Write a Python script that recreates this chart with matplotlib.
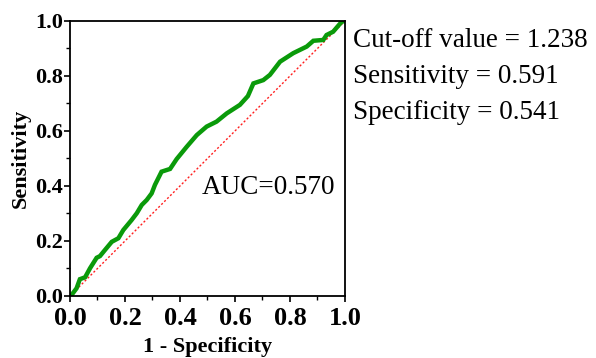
import matplotlib.pyplot as plt
import matplotlib.ticker as ticker

# ROC curve points
FPR = [0.000, 0.006, 0.024, 0.036, 0.055, 0.073, 0.097, 0.109, 0.127, 0.152,
       0.176, 0.194, 0.224, 0.243, 0.261, 0.279, 0.297, 0.309, 0.333, 0.364,
       0.376, 0.388, 0.406, 0.424, 0.461, 0.497, 0.533, 0.570, 0.618, 0.647,
       0.667, 0.703, 0.727, 0.764, 0.812, 0.861, 0.885, 0.921, 0.933, 0.957,
       0.988, 1.000]
TPR = [0.000, 0.004, 0.028, 0.061, 0.068, 0.101, 0.139, 0.145, 0.167, 0.197,
       0.210, 0.240, 0.276, 0.301, 0.331, 0.349, 0.373, 0.404, 0.452, 0.462,
       0.480, 0.498, 0.520, 0.542, 0.585, 0.616, 0.634, 0.664, 0.695, 0.727,
       0.773, 0.785, 0.804, 0.852, 0.883, 0.907, 0.928, 0.931, 0.949, 0.961,
       0.997, 1.000]

AUC = 0.570
CUTOFF = 1.238
SENS = 0.591
SPEC = 0.541

TICKS = [0.0, 0.2, 0.4, 0.6, 0.8, 1.0]

plt.rcParams.update({
    "font.family": "Liberation Serif",
    "axes.linewidth": 1.3,
})

fig = plt.figure(figsize=(5.96, 3.58), dpi=100)
ax = fig.add_axes([0.1174, 0.1732, 0.4614, 0.7682])

ax.plot([0, 1], [0, 1], color="#ff2020", linestyle=(0, (1.5, 1.5)), linewidth=1.0)
ax.plot(FPR, TPR, color="#0a9a0a", linewidth=3.2, solid_joinstyle="miter")

ax.set_xlim(0, 1)
ax.set_ylim(0, 1)
ax.set_xticks(TICKS)
ax.set_yticks(TICKS)
ax.xaxis.set_major_formatter(ticker.FormatStrFormatter("%.1f"))
ax.yaxis.set_major_formatter(ticker.FormatStrFormatter("%.1f"))
ax.xaxis.set_minor_locator(ticker.MultipleLocator(0.1))
ax.yaxis.set_minor_locator(ticker.MultipleLocator(0.1))
ax.tick_params(which="major", direction="out", length=4, width=1.2)
ax.tick_params(which="minor", direction="out", length=3, width=1.0)
ax.tick_params(axis="x", labelsize=19, pad=4)
ax.tick_params(axis="y", labelsize=16, pad=1)
for lab in ax.get_xticklabels() + ax.get_yticklabels():
    lab.set_fontweight("bold")

ax.set_xlabel("1 - Specificity", fontsize=16, fontweight="bold", labelpad=5)
ax.set_ylabel("Sensitivity", fontsize=16, fontweight="bold", labelpad=3)

ax.text(0.48, 0.395, f"AUC={AUC:.3f}", transform=ax.transAxes,
        fontsize=19.5, va="center", ha="left")

fig.text(0.592, 0.888, f"Cut-off value = {CUTOFF:.3f}", fontsize=19.5, va="center")
fig.text(0.592, 0.787, f"Sensitivity = {SENS:.3f}", fontsize=19.5, va="center")
fig.text(0.592, 0.687, f"Specificity = {SPEC:.3f}", fontsize=19.5, va="center")

fig.savefig("out.png", dpi=100)
